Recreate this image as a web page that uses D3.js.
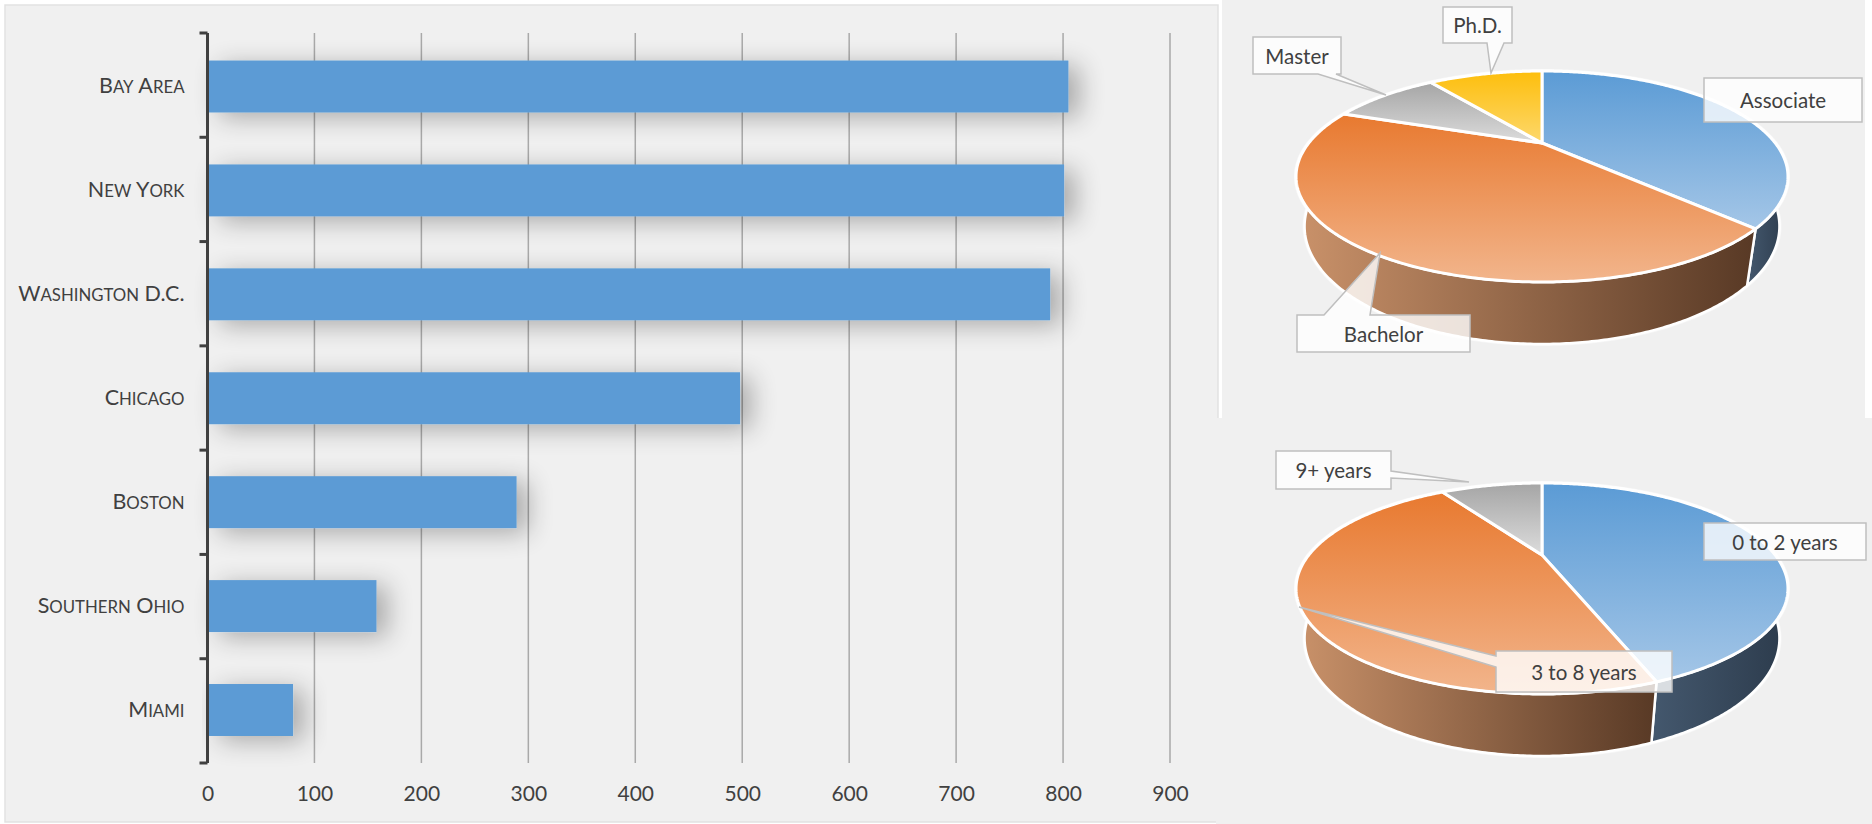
<!DOCTYPE html>
<html><head><meta charset="utf-8">
<script src="https://cdn.jsdelivr.net/npm/d3@7"></script>
<style>
body{margin:0;background:#fff;}
svg{display:block;}
text{font-family:Lato,"Open Sans",sans-serif;}
</style>
</head><body>
<svg id="c" width="1872" height="824"></svg>
<script>
// ---------- DATA ----------
const cities = ["Bay Area","New York","Washington D.C.","Chicago","Boston","Southern Ohio","Miami"];
const cityValues = [805,801,788,498,289,158,80];
const xTicks = [0,100,200,300,400,500,600,700,800,900];

const degreeLabels = ["Associate","Bachelor","Master","Ph.D."];
const degreeValues = [37.4,43.1,9.3,10.2];

const expLabels = ["0 to 2 years","3 to 8 years","9+ years"];
const expValues = [44.4,46.5,9.1];

// ---------- SETUP ----------
const svg = d3.select("#c");
const defs = svg.append("defs");

// panels
svg.append("rect").attr("x",5).attr("y",5).attr("width",1213).attr("height",817)
  .attr("fill","#f0f0f0").attr("stroke","#e2e2e2").attr("stroke-width",1.5);
svg.append("rect").attr("x",1222).attr("y",0).attr("width",643).attr("height",418).attr("fill","#f0f0f0");
svg.append("rect").attr("x",1216).attr("y",418).attr("width",656).attr("height",406).attr("fill","#f0f0f0");

// shadow filter
const flt = defs.append("filter").attr("id","sh").attr("x","-20%").attr("y","-150%").attr("width","160%").attr("height","400%");
flt.append("feGaussianBlur").attr("in","SourceAlpha").attr("stdDeviation",13);
flt.append("feOffset").attr("dx",11).attr("dy",5).attr("result","ob");
flt.append("feComponentTransfer").attr("in","ob").attr("result","sa")
  .append("feFuncA").attr("type","linear").attr("slope",0.3);
const fm = flt.append("feMerge");
fm.append("feMergeNode").attr("in","sa");
fm.append("feMergeNode").attr("in","SourceGraphic");

// ---------- BAR CHART ----------
const x = d3.scaleLinear().domain([0,900]).range([207.5,1170]);
const y = d3.scaleBand().domain(cities).range([33.5,763]).paddingInner(0.5).paddingOuter(0.26);
const yTop = 33, yBot = 763;

const bar = svg.append("g");
bar.selectAll("line.grid").data(xTicks.filter(d=>d>0)).join("line")
  .attr("x1",d=>x(d)).attr("x2",d=>x(d)).attr("y1",yTop).attr("y2",yBot)
  .attr("stroke","#a9a9a9").attr("stroke-width",1.5);

bar.selectAll("rect.bar").data(cities).join("rect")
  .attr("x",x(0)+1).attr("y",d=>y(d)).attr("height",y.bandwidth())
  .attr("width",(d,i)=>x(cityValues[i])-x(0)-1)
  .attr("fill","#5b9bd5").attr("filter","url(#sh)");

// axis line and boundary ticks
bar.append("line").attr("x1",x(0)).attr("x2",x(0)).attr("y1",yTop).attr("y2",yBot)
  .attr("stroke","#404040").attr("stroke-width",3);
const step = (yBot - yTop)/cities.length;
bar.selectAll("line.tk").data(d3.range(cities.length+1)).join("line")
  .attr("x1",x(0)-8).attr("x2",x(0)).attr("y1",d=>yTop+d*step).attr("y2",d=>yTop+d*step)
  .attr("stroke","#404040").attr("stroke-width",3);

const ax = bar.append("g").attr("transform",`translate(${x(0)},0)`)
  .call(d3.axisLeft(y).tickSize(0).tickPadding(23));
ax.select(".domain").remove();
ax.selectAll("text").attr("font-size",21.5).attr("fill","#404040")
  .style("font-family","Lato,'Open Sans',sans-serif")
  .each(function(d){
    // small caps: lowercase letters become smaller capitals
    const t = d3.select(this); t.text("");
    const runs = d.match(/[a-z]+|[^a-z]+/g);
    runs.forEach(r=>{
      const lower = /[a-z]/.test(r[0]);
      const sp = t.append("tspan").text(lower ? r.toUpperCase() : r);
      if(lower) sp.attr("font-size",16.8);
    });
  });

const bx = bar.append("g").attr("transform",`translate(0,${yBot})`)
  .call(d3.axisBottom(x).tickValues(xTicks).tickSize(0).tickPadding(23));
bx.select(".domain").remove();
bx.selectAll("text").attr("font-size",21).attr("fill","#404040").style("font-family","Lato,'Open Sans',sans-serif");

// ---------- 3D PIES ----------
const topGrad = {blue:["#5b9bd5","#a4c6e7"], orange:["#e8792f","#f2b58c"], grey:["#a5a5a5","#dcdcdc"], yellow:["#fdbe0c","#fdd86c"]};
const sideGrad = {blue:["#44586e","#2c3b4c"], orange:["#ca926a","#583925"], grey:["#8a8a8a","#5a5a5a"], yellow:["#c99700","#8a6700"]};
Object.entries(topGrad).forEach(([k,v])=>{
  const lg = defs.append("linearGradient").attr("id","top-"+k).attr("x1",0).attr("y1",0).attr("x2",0).attr("y2",1);
  lg.append("stop").attr("offset","0%").attr("stop-color",v[0]);
  lg.append("stop").attr("offset","100%").attr("stop-color",v[1]);
});
Object.entries(sideGrad).forEach(([k,v])=>{
  const lg = defs.append("linearGradient").attr("id","side-"+k).attr("x1",0).attr("y1",0).attr("x2",1).attr("y2",0);
  lg.append("stop").attr("offset","0%").attr("stop-color",v[0]);
  lg.append("stop").attr("offset","100%").attr("stop-color",v[1]);
});

function calloutPath(b, t){
  const [x0,y0,x1,y1] = b;
  const p = [[x0,y0]];
  if(t && t.side==="top"){ p.push([t.a,y0],t.tip,[t.b,y0]); }
  p.push([x1,y0]);
  if(t && t.side==="right"){ p.push([x1,t.a],t.tip,[x1,t.b]); }
  p.push([x1,y1]);
  if(t && t.side==="bottom"){ p.push([t.b,y1],t.tip,[t.a,y1]); }
  p.push([x0,y1]);
  if(t && t.side==="left"){ p.push([x0,t.b],t.tip,[x0,t.a]); }
  return d3.line()(p)+"Z";
}

function drawPie(labels, values, keys, cx, cy, callouts){
  const g = svg.append("g");
  const arcs = d3.pie().sort(null).value(d=>d)(values);
  const f=671, al=24*Math.PI/180, s=Math.sin(al), c=Math.cos(al), D=2.877, h=0.229;
  const proj=(phi,yUp)=>{const px=Math.cos(phi), pz=Math.sin(phi); const dep=D - yUp*s - pz*c; return [cx+f*px/dep, cy+f*(pz*s - yUp*c)/dep];};
  const line=d3.line();
  const samp=(a,b,yUp)=>{const n=Math.max(2,Math.ceil(Math.abs(b-a)/0.01)); return d3.range(n+1).map(i=>proj(a+(b-a)*i/n,yUp));};
  const off = Math.PI/2;
  // outer rim
  g.append("path").attr("d", line(samp(0,2*Math.PI,0))+"Z").attr("fill","#f7f7f7").attr("stroke","#f8f8f8").attr("stroke-width",4);
  g.append("path").attr("d", line(samp(0,Math.PI,0).concat(samp(Math.PI,0,-h)))+"Z").attr("fill","#f7f7f7").attr("stroke","#f8f8f8").attr("stroke-width",4).attr("stroke-linejoin","round");
  // sides
  arcs.forEach((a,i)=>{
    const lo=Math.max(a.startAngle-off,0), hi=Math.min(a.endAngle-off,Math.PI);
    if(hi>lo){
      g.append("path").attr("d", line(samp(lo,hi,0).concat(samp(hi,lo,-h)))+"Z")
        .attr("fill",`url(#side-${keys[i]})`).attr("stroke","#fff").attr("stroke-width",2.5).attr("stroke-linejoin","round");
    }
  });
  // tops
  arcs.forEach((a,i)=>{
    const pts=[[cx,cy]].concat(samp(a.startAngle-off,a.endAngle-off,0));
    g.append("path").attr("d", line(pts)+"Z").attr("fill",`url(#top-${keys[i]})`)
      .attr("stroke","#fff").attr("stroke-width",3).attr("stroke-linejoin","round");
  });
  // labels
  labels.forEach((lb,i)=>{
    const co = callouts[lb];
    g.append("path").attr("d", calloutPath(co.box, co.tail))
      .attr("fill","#fff").attr("fill-opacity",0.8).attr("stroke","#bfbfbf").attr("stroke-width",1.5).attr("stroke-linejoin","miter");
    g.append("text").attr("x",(co.box[0]+co.box[2])/2).attr("y",(co.box[1]+co.box[3])/2)
      .attr("text-anchor","middle").attr("dominant-baseline","central")
      .attr("font-size",20.5).attr("fill","#404040").text(lb);
  });
}

drawPie(degreeLabels, degreeValues, ["blue","orange","grey","yellow"], 1542, 143, {
  "Associate":{box:[1704,78,1862,122]},
  "Bachelor":{box:[1297,315,1470,352], tail:{side:"top",a:1324,b:1370,tip:[1380,253]}},
  "Master":{box:[1253,37,1341,74], tail:{side:"bottom",a:1318,b:1336,tip:[1386,95]}},
  "Ph.D.":{box:[1443,7,1512,43], tail:{side:"bottom",a:1487,b:1504,tip:[1491,73]}}
});

drawPie(expLabels, expValues, ["blue","orange","grey"], 1542, 555, {
  "0 to 2 years":{box:[1704,523,1866,560]},
  "3 to 8 years":{box:[1496,651,1672,692], tail:{side:"left",a:656,b:667,tip:[1299,607]}},
  "9+ years":{box:[1276,451,1391,489], tail:{side:"right",a:471,b:478,tip:[1469,482]}}
});
</script>
</body></html>
